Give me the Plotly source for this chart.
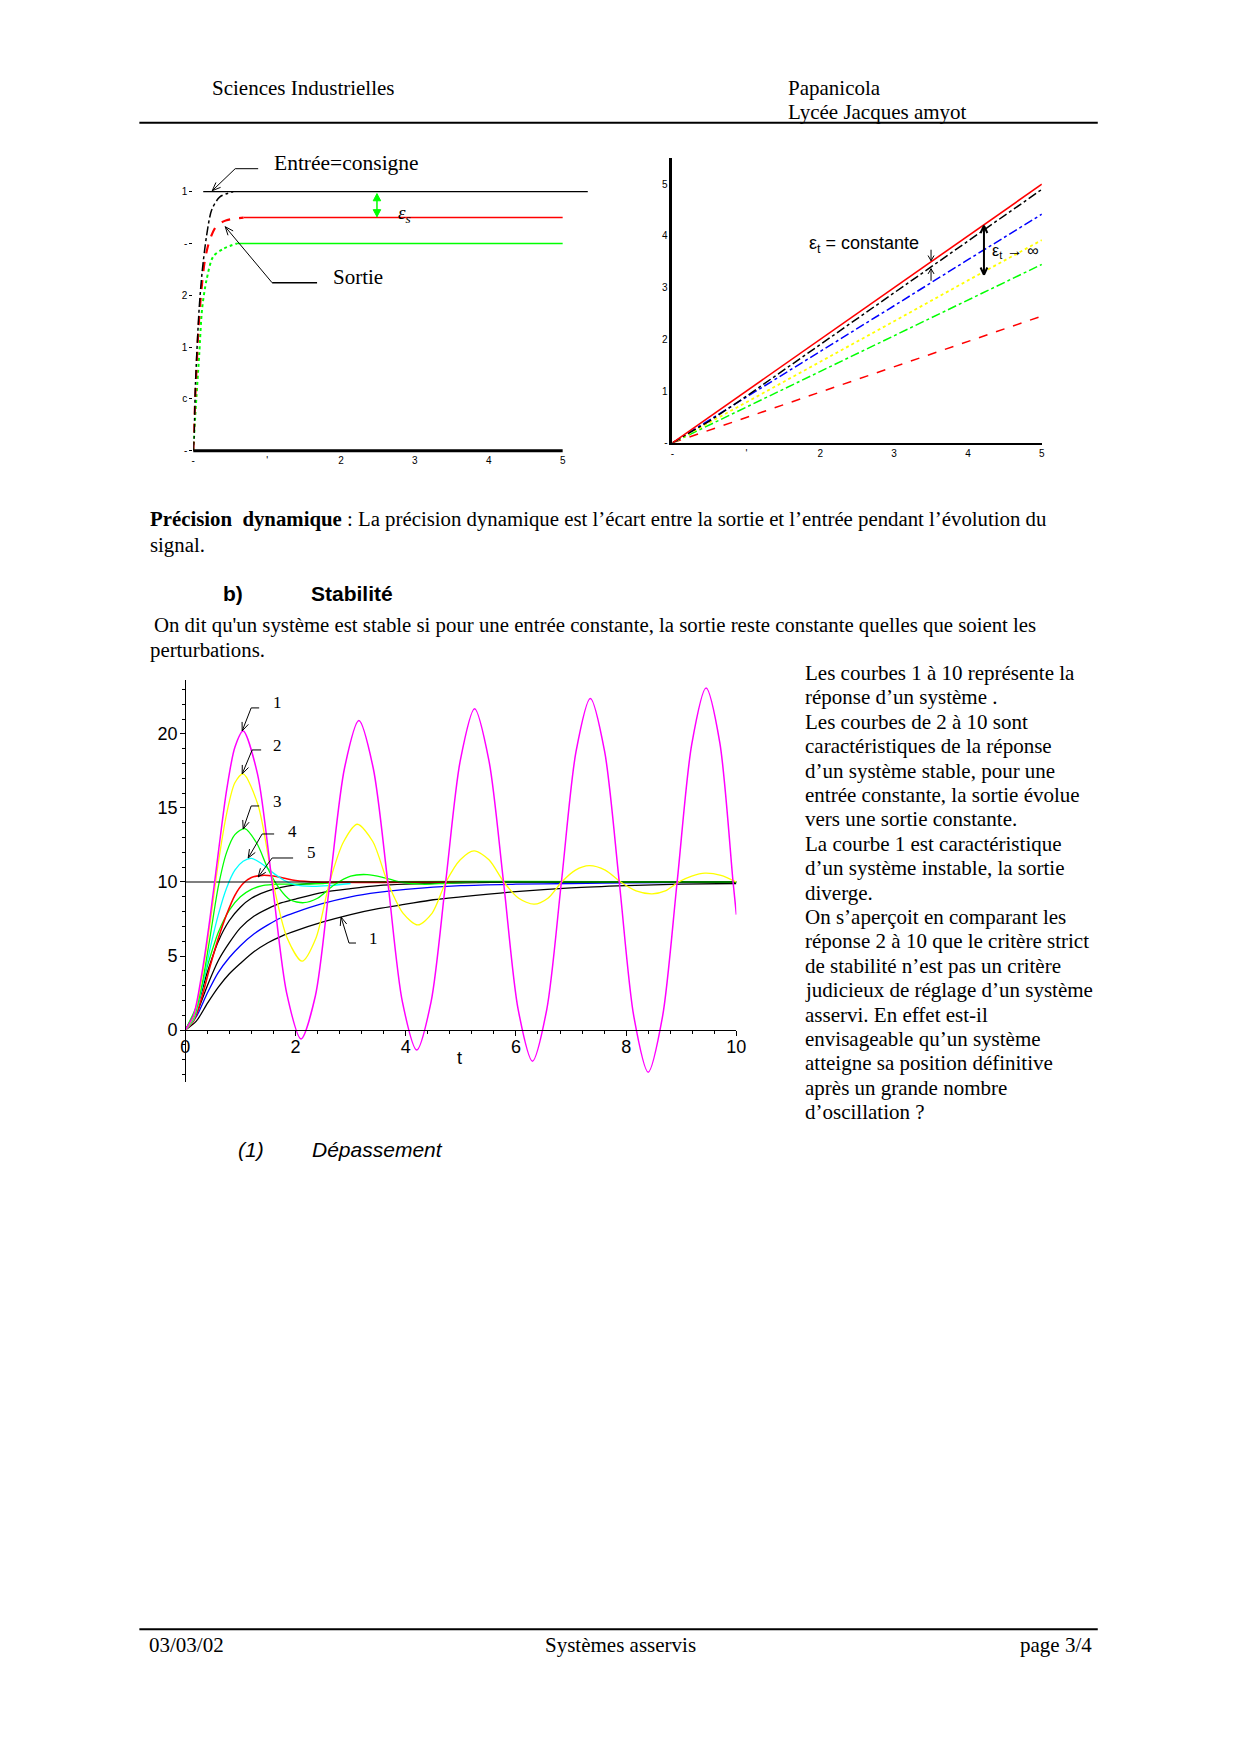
import math
import plotly.graph_objects as go

W, H = 1240, 1754

# ---------------- Chart 1 : précision statique (réponse indicielle) ----------------
c1_input_t = [0.135, 5.34]
c1_input_y = [1.0, 1.0]
c1_black_t = [0.0, 0.01, 0.03, 0.08, 0.12, 0.18, 0.25, 0.36, 0.54]
c1_black_y = [0.0, 0.05, 0.26, 0.55, 0.69, 0.83, 0.93, 0.98, 1.0]
c1_red_t = [0.0, 0.02, 0.07, 0.11, 0.16, 0.23, 0.32, 0.45, 0.68]
c1_red_y = [0.0, 0.16, 0.47, 0.62, 0.74, 0.82, 0.87, 0.89, 0.90]
c1_red_flat_t = [0.68, 5.0]
c1_red_flat_y = [0.90, 0.90]
c1_green_t = [0.0, 0.03, 0.08, 0.12, 0.18, 0.27, 0.41, 0.59]
c1_green_y = [0.0, 0.15, 0.37, 0.55, 0.66, 0.75, 0.78, 0.80]
c1_green_flat_t = [0.59, 5.0]
c1_green_flat_y = [0.80, 0.80]
c1_xticks = [0, 1, 2, 3, 4, 5]
c1_xticktext = ["-", "'", "2", "3", "4", "5"]
c1_yticks = [0, 0.2, 0.4, 0.6, 0.8, 1.0]
c1_yticktext = ["-", "c", "1", "2", "-", "1"]

# ---------------- Chart 2 : précision dynamique (réponse à une rampe) ----------------
c2_t = [0, 1, 2, 3, 4, 5]
c2_entree = [0, 1.0, 2.0, 3.0, 4.0, 5.0]
c2_black_t = [0, 0.5, 1, 2, 3, 4, 5]
c2_black = [0, 0.42, 0.9, 1.9, 2.9, 3.9, 4.9]
c2_blue = [0, 0.88, 1.77, 2.65, 3.54, 4.42]
c2_yellow = [0, 0.78, 1.57, 2.35, 3.14, 3.92]
c2_green = [0, 0.69, 1.38, 2.07, 2.76, 3.45]
c2_red2 = [0, 0.49, 0.98, 1.47, 1.96, 2.45]
c2_xticks = [0, 1, 2, 3, 4, 5]
c2_xticktext = ["-", "'", "2", "3", "4", "5"]
c2_yticks = [0, 1, 2, 3, 4, 5]
c2_yticktext = ["-", "1", "2", "3", "4", "5"]

# ---------------- Chart 3 : stabilité ----------------
consigne_t = [0, 10]
consigne_y = [10, 10]
c_magenta_t = [0, 0.15, 0.3, 0.45, 0.6, 0.75, 0.9, 1.05,
               1.31, 1.575, 1.84, 2.1, 2.36, 2.625, 2.89, 3.15,
               3.41, 3.675, 3.94, 4.2, 4.46, 4.725, 4.99, 5.25,
               5.51, 5.775, 6.04, 6.3, 6.56, 6.825, 7.09, 7.35,
               7.61, 7.875, 8.14, 8.4, 8.66, 8.925, 9.19, 9.45,
               9.70, 9.94, 10.0]
c_magenta_y = [0, 1.0, 3.8, 7.6, 12.0, 16.2, 19.1, 20.2,
               17.3, 10.0, 2.5, -0.6, 2.3, 10.0, 17.7, 20.9,
               17.7, 10.0, 1.9, -1.35, 1.9, 10.0, 18.2, 21.7,
               18.2, 10.0, 1.4, -2.1, 1.4, 10.0, 18.8, 22.4,
               18.8, 10.0, 0.9, -2.85, 0.9, 10.0, 19.3, 23.1,
               19.4, 10.0, 7.8]
c_yellow_t = [0, 0.15, 0.3, 0.45, 0.6, 0.75, 0.9, 1.05,
              1.32, 1.59, 1.85, 2.12, 2.37, 2.62, 2.87, 3.12,
              3.40, 3.67, 3.95, 4.22, 4.48, 4.73, 4.99, 5.24,
              5.51, 5.78, 6.05, 6.33, 6.58, 6.83, 7.08, 7.33,
              7.62, 7.90, 8.18, 8.47, 8.71, 8.95, 9.19, 9.43,
              9.72, 10.0]
c_yellow_y = [0, 0.9, 3.5, 7.2, 11.3, 14.6, 16.7, 17.3,
              15.2, 10.0, 6.2, 4.65, 6.2, 10.0, 12.7, 13.9,
              12.75, 10.0, 7.9, 7.1, 7.9, 10.0, 11.5, 12.1,
              11.5, 10.0, 8.9, 8.5, 8.9, 10.0, 10.8, 11.1,
              10.8, 10.0, 9.4, 9.2, 9.4, 10.0, 10.4, 10.6,
              10.45, 10.0]
c_green_t = [0, 0.15, 0.3, 0.45, 0.6, 0.75, 0.9, 1.08, 1.3, 1.5, 1.7, 1.9, 2.15,
             2.4, 2.7, 3.0, 3.3, 3.6, 3.9, 4.3, 4.7, 5.2, 6.0, 10.0]
c_green_y = [0, 0.8, 3.0, 6.3, 9.7, 12.0, 13.2, 13.6, 12.6, 10.9, 9.6, 8.8, 8.6,
             8.9, 9.8, 10.4, 10.5, 10.3, 10.0, 9.85, 9.9, 10.0, 10.0, 10.0]
c_cyan_t = [0, 0.15, 0.3, 0.45, 0.6, 0.75, 0.9, 1.05, 1.2, 1.4, 1.6, 1.8, 2.0, 2.3, 2.6, 3.0]
c_cyan_y = [0, 0.7, 2.8, 5.5, 7.8, 9.6, 10.8, 11.4, 11.6, 11.2, 10.6, 10.1, 9.8, 9.7, 9.75, 9.9]
c_red_t = [0, 0.15, 0.3, 0.45, 0.6, 0.75, 0.9, 1.05, 1.2, 1.4, 1.6, 1.8, 2.0, 2.4, 5.3]
c_red_y = [0, 0.6, 2.2, 4.3, 6.2, 7.8, 9.1, 9.9, 10.3, 10.45, 10.4, 10.25, 10.1, 10.0, 10.0]
c_green2_t = [0, 0.2, 0.4, 0.6, 0.8, 1.0, 1.2, 1.4, 1.7, 2.0, 2.5, 3.0, 10.0]
c_green2_y = [0, 1.6, 4.3, 6.6, 8.1, 9.0, 9.5, 9.75, 9.85, 9.85, 9.9, 10.0, 10.0]
c_black7_t = [0, 0.2, 0.4, 0.6, 0.8, 1.0, 1.2, 1.5, 2.0, 2.5, 3.0, 10.0]
c_black7_y = [0, 1.4, 3.9, 6.0, 7.4, 8.3, 8.9, 9.4, 9.8, 9.95, 10.0, 10.0]
c_black8_t = [0, 0.2, 0.4, 0.6, 0.8, 1.0, 1.25, 1.5, 1.75, 2.0, 2.5, 3.0, 3.5, 4.0, 5.0, 6.0, 10.0]
c_black8_y = [0, 1.1, 3.0, 4.7, 5.9, 6.9, 7.7, 8.2, 8.6, 8.85, 9.3, 9.55, 9.75, 9.85, 9.95, 10.0, 10.0]
c_blue_t = [0, 0.2, 0.4, 0.6, 0.8, 1.0, 1.25, 1.5, 1.75, 2.0, 2.5, 3.0, 3.5, 4.0, 5.0, 6.0, 7.0, 8.0, 10.0]
c_blue_y = [0, 0.9, 2.5, 3.9, 4.9, 5.7, 6.5, 7.1, 7.6, 7.95, 8.55, 9.0, 9.3, 9.5, 9.75, 9.85, 9.9, 9.95, 10.0]
c_black10_t = [0, 0.2, 0.4, 0.6, 0.8, 1.0, 1.25, 1.5, 1.75, 2.0, 2.5, 3.0, 3.5, 4.0, 4.5, 5.0, 6.0, 7.0, 8.0, 9.0, 10.0]
c_black10_y = [0, 0.6, 1.8, 2.9, 3.8, 4.5, 5.3, 5.9, 6.35, 6.7, 7.3, 7.8, 8.2, 8.5, 8.8, 9.0, 9.35, 9.6, 9.75, 9.85, 9.9]

# ---------------- Texts ----------------
header_left = "Sciences Industrielles"
header_right = ["Papanicola", "Lycée Jacques amyot"]
para1 = ["<b>Précision  dynamique</b> : La précision dynamique est l’écart entre la sortie et l’entrée pendant l’évolution du",
         "signal."]
para2 = ["On dit qu'un système est stable si pour une entrée constante, la sortie reste constante quelles que soient les",
         "perturbations."]
right_col = ["Les courbes 1 à 10 représente la",
             "réponse d’un système .",
             "Les courbes de 2 à 10 sont",
             "caractéristiques de la réponse",
             "d’un système stable, pour une",
             "entrée constante, la sortie évolue",
             "vers une sortie constante.",
             "La courbe 1 est caractéristique",
             "d’un système instable, la sortie",
             "diverge.",
             "On s’aperçoit en comparant les",
             "réponse 2 à 10 que le critère strict",
             "de stabilité n’est pas un critère",
             "judicieux de réglage d’un système",
             "asservi. En effet est-il",
             "envisageable qu’un système",
             "atteigne sa position définitive",
             "après un grande nombre",
             "d’oscillation ?"]
footer = ["03/03/02", "Systèmes asservis", "page 3/4"]

SERIF = "Liberation Serif"
SANS = "Liberation Sans"


def cx(x):
    return x - 11 + 10 * (x - 148) / 946


def cy(y):
    return y - 8 + 5 * (y - 123) / 1522


def PX(x):
    return cx(x) / W


def PY(y):
    return 1 - cy(y) / H


def txt(x, y, s, size=21, family=SERIF, anchor="left", italic=False, color="black"):
    if italic:
        s = "<i>" + s + "</i>"
    return dict(x=PX(x), y=PY(y), xref="paper", yref="paper", text=s, showarrow=False,
                xanchor=anchor, yanchor="middle", borderpad=0,
                font=dict(family=family, size=size, color=color))


def seg(x0, y0, x1, y1, width=1.0, color="black"):
    return dict(type="line", xref="paper", yref="paper", x0=PX(x0), y0=PY(y0), x1=PX(x1), y1=PY(y1),
                line=dict(color=color, width=width))


def head(tip, tail, color="black", width=1.0, hl=8, ang=22, filled=False):
    dx, dy = tip[0] - tail[0], tip[1] - tail[1]
    n = math.hypot(dx, dy)
    ux, uy = dx / n, dy / n
    out = []
    pts = []
    for s in (1, -1):
        a = math.radians(ang) * s
        rx = ux * math.cos(a) - uy * math.sin(a)
        ry = ux * math.sin(a) + uy * math.cos(a)
        pts.append((tip[0] - hl * rx, tip[1] - hl * ry))
    if filled:
        path = "M {} {} L {} {} L {} {} Z".format(PX(tip[0]), PY(tip[1]), PX(pts[0][0]), PY(pts[0][1]),
                                                 PX(pts[1][0]), PY(pts[1][1]))
        out.append(dict(type="path", xref="paper", yref="paper", path=path, fillcolor=color,
                        line=dict(color=color, width=1)))
    else:
        for p in pts:
            out.append(seg(tip[0], tip[1], p[0], p[1], width, color))
    return out


def arrow(tip, tail, color="black", width=1.0, hl=8, ang=22, filled=False, both=False):
    out = [seg(tail[0], tail[1], tip[0], tip[1], width, color)]
    out += head(tip, tail, color, width, hl, ang, filled)
    if both:
        out += head(tail, tip, color, width, hl, ang, filled)
    return out


fig = go.Figure()


def line(x, y, color, xa, ya, width=1.3, dash="solid", shape="spline"):
    fig.add_trace(go.Scatter(x=x, y=y, mode="lines", xaxis=xa, yaxis=ya, showlegend=False,
                             hoverinfo="skip",
                             line=dict(color=color, width=width, dash=dash, shape=shape, smoothing=0.8)))


# chart 1
line(c1_input_t, c1_input_y, "black", "x", "y", 1.3, shape="linear")
line(c1_red_flat_t, c1_red_flat_y, "#ff0000", "x", "y", 1.5, shape="linear")
line(c1_green_flat_t, c1_green_flat_y, "#00ff00", "x", "y", 1.5, shape="linear")
line(c1_green_t, c1_green_y, "#00ff00", "x", "y", 2.0, dash="dot")
line(c1_red_t, c1_red_y, "#ff0000", "x", "y", 2.2, dash="dash")
line(c1_black_t, c1_black_y, "black", "x", "y", 1.5, dash="dashdot")

# chart 2
line(c2_t, c2_red2, "#ff0000", "x2", "y2", 1.5, dash="dash", shape="linear")
line(c2_t, c2_green, "#00ff00", "x2", "y2", 1.5, dash="dashdot", shape="linear")
line(c2_t, c2_yellow, "#ffff00", "x2", "y2", 1.8, dash="dot", shape="linear")
line(c2_t, c2_blue, "#0000ff", "x2", "y2", 1.5, dash="dashdot", shape="linear")
line(c2_black_t, c2_black, "black", "x2", "y2", 1.5, dash="dashdot", shape="linear")
line(c2_t, c2_entree, "#ff0000", "x2", "y2", 1.6, shape="linear")

# chart 3
line(c_black10_t, c_black10_y, "black", "x3", "y3")
line(c_blue_t, c_blue_y, "#0000ff", "x3", "y3")
line(c_black8_t, c_black8_y, "black", "x3", "y3")
line(c_black7_t, c_black7_y, "black", "x3", "y3")
line(c_green2_t, c_green2_y, "#00ff00", "x3", "y3")
line(c_red_t, c_red_y, "#ff0000", "x3", "y3", 1.6)
line(c_cyan_t, c_cyan_y, "#00ffff", "x3", "y3")
line(c_green_t, c_green_y, "#00ff00", "x3", "y3")
line(consigne_t, consigne_y, "black", "x3", "y3", 1.2, shape="linear")
line(c_yellow_t, c_yellow_y, "#ffff00", "x3", "y3")
line(c_magenta_t, c_magenta_y, "#ff00ff", "x3", "y3", 1.5)

# ---------------- axes ----------------
tickfont_small = dict(family=SANS, size=10, color="black")
c1_xr = [0, 5.4]
c1_yr = [-0.01, 1.08]
c2_xr = [0, 5]
c2_yr = [0, 5.5]
c3_xr = [0, 10]
c3_yr = [-3.5, 23.65]

layout = dict(
    width=W, height=H, margin=dict(l=0, r=0, t=0, b=0),
    paper_bgcolor="white", plot_bgcolor="rgba(0,0,0,0)", showlegend=False,
    xaxis=dict(domain=[PX(193), PX(193 + 5.4 * 74)], range=c1_xr, anchor="y",
               showgrid=False, zeroline=False, showline=False,
               tickvals=c1_xticks, ticktext=c1_xticktext, ticks="", tickfont=tickfont_small),
    yaxis=dict(domain=[PY(451 + 0.01 * 259), PY(451 - 1.08 * 259)], range=c1_yr, anchor="x",
               showgrid=False, zeroline=False, showline=False,
               tickvals=c1_yticks, ticktext=c1_yticktext, ticks="outside", ticklen=3,
               tickcolor="black", tickfont=tickfont_small),
    xaxis2=dict(domain=[PX(673), PX(673 + 5 * 74)], range=c2_xr, anchor="y2",
                showgrid=False, zeroline=False, showline=True, linecolor="black", linewidth=1.5,
                tickvals=c2_xticks, ticktext=c2_xticktext, ticks="", tickfont=tickfont_small),
    yaxis2=dict(domain=[PY(443), PY(443 - 5.5 * 51.7)], range=c2_yr, anchor="x2",
                showgrid=False, zeroline=False, showline=True, linecolor="black", linewidth=3,
                tickvals=c2_yticks, ticktext=c2_yticktext, ticks="", tickfont=tickfont_small),
    xaxis3=dict(domain=[PX(185), PX(185 + 10 * 55.2)], range=c3_xr, anchor="free", position=PY(1030),
                showgrid=False, zeroline=False, showline=True, linecolor="black", linewidth=1.2,
                dtick=2, tick0=0, ticks="outside", ticklen=5, tickcolor="black", ticklabelstandoff=-5,
                minor=dict(dtick=0.4, tick0=0, ticks="outside", ticklen=3, tickcolor="black"),
                tickfont=dict(family=SANS, size=18, color="black")),
    yaxis3=dict(domain=[PY(1030 + 3.5 * 14.8), PY(1030 - 23.65 * 14.8)], range=c3_yr, anchor="free",
                position=PX(185),
                showgrid=False, zeroline=False, showline=True, linecolor="black", linewidth=1.2,
                dtick=5, tick0=0, ticks="outside", ticklen=5, tickcolor="black", ticklabelstandoff=-1,
                minor=dict(dtick=1, tick0=0, ticks="outside", ticklen=3, tickcolor="black"),
                tickfont=dict(family=SANS, size=18, color="black")),
)
fig.update_layout(**layout)

shapes = []
ann = []

# header / footer
shapes.append(seg(139, 123, 1099, 123, 2))
shapes.append(seg(139, 1629, 1099, 1629, 2))
ann.append(txt(211, 88, header_left))
ann.append(txt(788, 88, header_right[0]))
ann.append(txt(788, 112, header_right[1]))
ann.append(txt(148, 1645, footer[0], size=21))
ann.append(txt(621, 1645, footer[1], size=21, anchor="center"))
ann.append(txt(1094, 1645, footer[2], size=21, anchor="right"))

# chart 1 decorations
shapes.append(seg(193, 451, 563, 451, 3))
ann.append(txt(273, 163, "Entrée=consigne", size=21.5))
shapes.append(seg(258, 169, 235, 169, 1))
shapes += arrow((212, 191), (235, 169), hl=9)
ann.append(txt(332, 277, "Sortie", size=21))
shapes.append(seg(317, 283, 272, 283, 1.5))
shapes += arrow((225, 227), (272, 283), hl=9)
shapes += arrow((377, 194), (377, 217), color="#00ff00", width=1.5, hl=8, ang=28, filled=True, both=True)
ann.append(txt(397, 214, "ε<sub>s</sub>", size=19, italic=True))

# chart 2 decorations
ann.append(txt(809, 245, "ε<sub>t</sub> = constante", size=18, family=SANS))
shapes += arrow((932, 261), (932, 250), hl=6, ang=30)
shapes += arrow((932, 269), (932, 281), hl=6, ang=30)
shapes += arrow((985, 226), (985, 275), width=2, hl=8, ang=25, both=True)
ann.append(txt(992, 252, "ε<sub>t</sub> → ∞", size=16, family=SANS))

# chart 3 decorations (labels of curves)
labels3 = ["1", "2", "3", "4", "5", "1"]
label_pos = [(277, 703), (277, 746), (277, 802), (292, 832), (311, 853), (374, 938)]
hseg = [((251, 708), (259, 708)), ((252, 750), (261, 750)), ((251, 806), (259, 806)),
        ((262, 834), (274, 834)), ((272, 858), (293, 858)), ((349, 943), (356, 943))]
tips = [(242, 731), (242, 774), (243, 829), (248, 858), (258, 877), (341, 917)]
for lab, p, hs, tp in zip(labels3, label_pos, hseg, tips):
    ann.append(txt(p[0], p[1], lab, size=17, anchor="center"))
    shapes.append(seg(hs[0][0], hs[0][1], hs[1][0], hs[1][1], 1))
    shapes += arrow(tp, hs[0], hl=9, ang=22)
ann.append(txt(460, 1058, "t", size=18, family=SANS, anchor="center"))

# body texts
ann.append(txt(149, 519, para1[0], size=20.8))
ann.append(txt(149, 545, para1[1], size=20.8))
ann.append(txt(222, 594, "<b>b)</b>", size=21, family=SANS))
ann.append(txt(310, 594, "<b>Stabilité</b>", size=21, family=SANS))
ann.append(txt(153, 625, para2[0], size=20.8))
ann.append(txt(149, 650, para2[1], size=20.8))
for i, s in enumerate(right_col):
    ann.append(txt(805, 673 + i * 24.4, s, size=21))
ann.append(txt(237, 1149, "(1)", size=21, family=SANS, italic=True))
ann.append(txt(311, 1149, "Dépassement", size=21, family=SANS, italic=True))

fig.update_layout(shapes=shapes, annotations=ann)
fig.write_html("out.html")
